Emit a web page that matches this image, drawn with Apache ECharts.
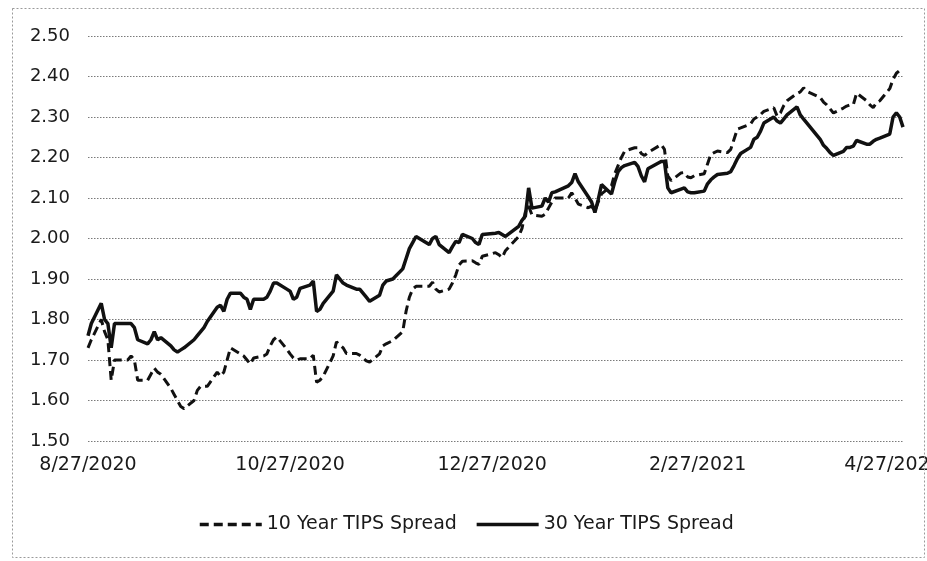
<!DOCTYPE html>
<html>
<head>
<meta charset="utf-8">
<script src="https://cdn.jsdelivr.net/npm/echarts@6/dist/echarts.min.js"></script>
<style>
html,body{margin:0;padding:0;background:#fff;}
#chart{width:927px;height:561px;}
</style>
</head>
<body>
<div id="chart"></div>
<script>
const dates = [
'2020-08-27','2020-08-28','2020-08-31','2020-09-01','2020-09-02','2020-09-03','2020-09-04','2020-09-08','2020-09-09','2020-09-10',
'2020-09-11','2020-09-14','2020-09-15','2020-09-16','2020-09-17','2020-09-18','2020-09-21','2020-09-22','2020-09-23','2020-09-24',
'2020-09-25','2020-09-28','2020-09-29','2020-09-30','2020-10-01','2020-10-02','2020-10-05','2020-10-06','2020-10-07','2020-10-08',
'2020-10-09','2020-10-12','2020-10-13','2020-10-14','2020-10-15','2020-10-16','2020-10-19','2020-10-20','2020-10-21','2020-10-22',
'2020-10-23','2020-10-26','2020-10-27','2020-10-28','2020-10-29','2020-10-30','2020-11-02','2020-11-03','2020-11-04','2020-11-05',
'2020-11-06','2020-11-09','2020-11-10','2020-11-12','2020-11-13','2020-11-16','2020-11-17','2020-11-18','2020-11-19','2020-11-20',
'2020-11-23','2020-11-24','2020-11-25','2020-11-27','2020-11-30','2020-12-01','2020-12-02','2020-12-03','2020-12-04','2020-12-07',
'2020-12-08','2020-12-09','2020-12-10','2020-12-11','2020-12-14','2020-12-15','2020-12-16','2020-12-17','2020-12-18','2020-12-21',
'2020-12-22','2020-12-23','2020-12-24','2020-12-28','2020-12-29','2020-12-30','2020-12-31','2021-01-04','2021-01-05','2021-01-06',
'2021-01-07','2021-01-08','2021-01-11','2021-01-12','2021-01-13','2021-01-14','2021-01-15','2021-01-19','2021-01-20','2021-01-21',
'2021-01-22','2021-01-25','2021-01-26','2021-01-27','2021-01-28','2021-01-29','2021-02-01','2021-02-02','2021-02-03','2021-02-04',
'2021-02-05','2021-02-08','2021-02-09','2021-02-10','2021-02-11','2021-02-12','2021-02-16','2021-02-17','2021-02-18','2021-02-19',
'2021-02-22','2021-02-23','2021-02-24','2021-02-25','2021-02-26','2021-03-01','2021-03-02','2021-03-03','2021-03-04','2021-03-05',
'2021-03-08','2021-03-09','2021-03-10','2021-03-11','2021-03-12','2021-03-15','2021-03-16','2021-03-17','2021-03-18','2021-03-19',
'2021-03-22','2021-03-23','2021-03-24','2021-03-25','2021-03-26','2021-03-29','2021-03-30','2021-03-31','2021-04-01','2021-04-05',
'2021-04-06','2021-04-07','2021-04-08','2021-04-09','2021-04-12','2021-04-13','2021-04-14','2021-04-15','2021-04-16','2021-04-19',
'2021-04-20','2021-04-21','2021-04-22','2021-04-23','2021-04-26','2021-04-27','2021-04-28','2021-04-29','2021-04-30'
];
const tips30 = [
1.76,1.79,1.84,1.80,1.79,1.73,1.79,1.79,1.79,1.78,
1.75,1.74,1.75,1.77,1.75,1.755,1.735,1.725,1.72,1.725,
1.73,1.75,1.76,1.77,1.78,1.795,1.83,1.835,1.82,1.85,
1.865,1.865,1.855,1.85,1.825,1.85,1.85,1.855,1.87,1.89,
1.89,1.875,1.87,1.85,1.855,1.877,1.885,1.895,1.82,1.825,
1.84,1.87,1.91,1.89,1.885,1.875,1.875,1.865,1.855,1.845,
1.86,1.885,1.895,1.90,1.925,1.95,1.975,1.99,2.005,1.99,
1.985,2.00,2.005,1.985,1.965,1.98,1.993,1.99,2.01,2.00,
1.99,1.985,2.01,2.013,2.015,2.01,2.005,2.03,2.045,2.055,
2.125,2.075,2.08,2.10,2.09,2.113,2.115,2.13,2.138,2.16,
2.14,2.103,2.09,2.064,2.096,2.133,2.11,2.14,2.165,2.175,
2.18,2.188,2.178,2.155,2.14,2.172,2.19,2.19,2.125,2.113,
2.122,2.125,2.115,2.113,2.113,2.117,2.135,2.145,2.152,2.158,
2.161,2.165,2.18,2.197,2.21,2.225,2.245,2.25,2.265,2.285,
2.30,2.29,2.285,2.295,2.305,2.325,2.305,2.295,2.285,2.245,
2.23,2.222,2.212,2.205,2.215,2.225,2.225,2.228,2.242,2.233,
2.233,2.24,2.245,2.248,2.258,2.30,2.31,2.30,2.275
];
const tips10 = [
1.73,1.75,1.80,1.77,1.75,1.65,1.70,1.70,1.71,1.70,
1.65,1.65,1.665,1.68,1.67,1.665,1.63,1.615,1.60,1.585,
1.58,1.60,1.625,1.635,1.635,1.635,1.67,1.66,1.67,1.70,
1.73,1.715,1.71,1.70,1.69,1.705,1.71,1.715,1.735,1.75,
1.757,1.727,1.715,1.705,1.70,1.703,1.703,1.712,1.645,1.65,
1.66,1.71,1.745,1.73,1.716,1.716,1.712,1.705,1.698,1.695,
1.715,1.735,1.74,1.748,1.77,1.82,1.855,1.875,1.882,1.882,
1.882,1.892,1.875,1.868,1.875,1.89,1.91,1.935,1.944,1.945,
1.94,1.936,1.956,1.965,1.96,1.953,1.97,2.005,2.025,2.065,
2.08,2.058,2.055,2.06,2.075,2.09,2.10,2.10,2.113,2.10,
2.085,2.076,2.08,2.068,2.09,2.11,2.13,2.16,2.18,2.20,
2.216,2.224,2.224,2.21,2.205,2.212,2.232,2.22,2.155,2.143,
2.162,2.163,2.152,2.15,2.155,2.16,2.184,2.208,2.212,2.216,
2.212,2.22,2.245,2.27,2.273,2.283,2.295,2.30,2.306,2.314,
2.323,2.302,2.31,2.328,2.34,2.358,2.362,2.372,2.363,2.348,
2.337,2.33,2.32,2.31,2.322,2.327,2.33,2.33,2.359,2.34,
2.33,2.323,2.335,2.34,2.37,2.393,2.408,2.415,2.418
];
const xTickLabels = ['2020-08-27','2020-10-27','2020-12-27','2021-02-27','2021-04-27'];
const axisStart = '2020-08-27';
const axisEnd = '2021-04-30';
const seriesNames = ['10 Year TIPS Spread','30 Year TIPS Spread'];

function ts(s){const p=s.split('-').map(Number);return new Date(p[0],p[1]-1,p[2]).getTime();}
const FONT = 'DejaVu Sans';
const chart = echarts.init(document.getElementById('chart'), null, {renderer:'canvas'});
chart.setOption({
  animation:false,
  backgroundColor:'#ffffff',
  textStyle:{fontFamily:FONT},
  graphic:[{type:'rect',shape:{x:12.5,y:8.5,width:912,height:549},style:{fill:'none',stroke:'#9a9a9a',lineWidth:1,lineDash:[2,2]},silent:true,z:100}],
  grid:{left:88,right:24,top:36,bottom:120,outerBoundsMode:'none',containLabel:false},
  legend:{
    left:198, top:515, padding:0, itemWidth:62, itemHeight:14, itemGap:18,
    itemStyle:{opacity:0},
    lineStyle:{width:3.5},
    textStyle:{fontFamily:FONT,fontSize:19,color:'#1a1a1a'},
    data:seriesNames
  },
  xAxis:{
    type:'value', min:ts(axisStart), max:ts(axisEnd),
    axisLine:{show:false}, axisTick:{show:false}, splitLine:{show:false},
    axisLabel:{
      customValues:xTickLabels.map(ts),
      margin:15, fontSize:19, color:'#1a1a1a', fontFamily:FONT,
      formatter:function(v){const d=new Date(v);return (d.getMonth()+1)+'/'+d.getDate()+'/'+d.getFullYear();}
    }
  },
  yAxis:{
    type:'value', min:1.5, max:2.5, interval:0.1,
    axisLine:{show:false}, axisTick:{show:false},
    splitLine:{show:true,lineStyle:{color:'#7a7a7a',width:1,type:[1.5,1.5]}},
    axisLabel:{margin:18,fontSize:18,color:'#1a1a1a',fontFamily:FONT,formatter:function(v){return v.toFixed(2);}}
  },
  series:[
    {name:seriesNames[0],type:'line',symbol:'none',data:dates.map((d,i)=>[ts(d),tips10[i]]),
     lineStyle:{color:'#111',width:3,type:[9,5]},itemStyle:{color:'#111'}},
    {name:seriesNames[1],type:'line',symbol:'none',data:dates.map((d,i)=>[ts(d),tips30[i]]),
     lineStyle:{color:'#111',width:3.5,type:'solid'},itemStyle:{color:'#111'}}
  ]
});
</script>
</body>
</html>
